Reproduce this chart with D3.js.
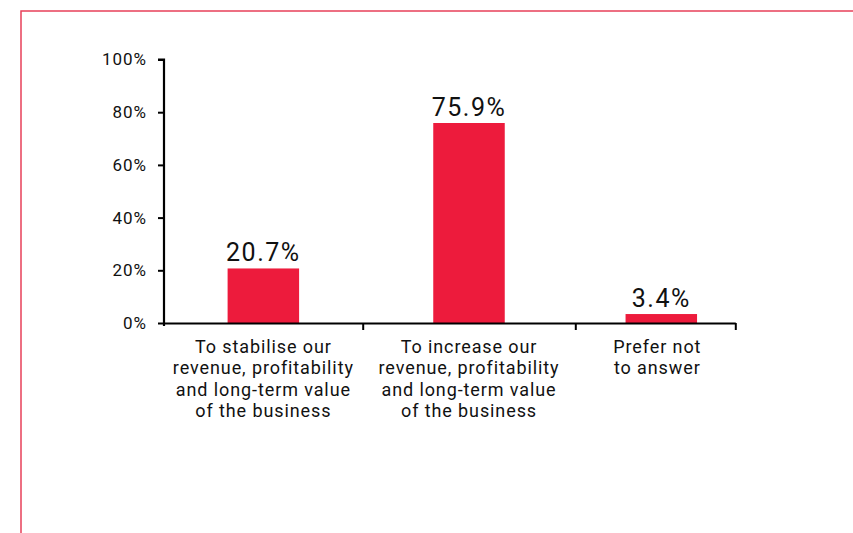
<!DOCTYPE html>
<html>
<head>
<meta charset="utf-8">
<script src="https://cdn.jsdelivr.net/npm/d3@7"></script>
<style>
  html, body { margin: 0; padding: 0; background: #fff; }
  svg { display: block; }
  text { font-family: Roboto, "Open Sans", sans-serif; fill: #111; }
</style>
</head>
<body>
<svg id="chart" width="853" height="533"></svg>
<script>
// ---- data ----
const categories = [
  ["To stabilise our", "revenue, profitability", "and long-term value", "of the business"],
  ["To increase our", "revenue, profitability", "and long-term value", "of the business"],
  ["Prefer not", "to answer"]
];
const values = [20.7, 75.9, 3.4];
const valueLabels = ["20.7%", "75.9%", "3.4%"];
const yTicks = [0, 20, 40, 60, 80, 100];
const yTickLabels = ["0%", "20%", "40%", "60%", "80%", "100%"];

// ---- layout ----
const svg = d3.select("#chart");
const W = 853, H = 533;
const barColor = "#ED1B3C";

// frame lines (top + left)
svg.append("path")
  .attr("d", `M21,${H} V11 H${W}`)
  .attr("fill", "none")
  .attr("stroke", "#E8405A")
  .attr("stroke-width", 1.5);

const y = d3.scaleLinear().domain([0, 100]).range([323, 59.5]);
// category boundaries scale (index of boundary -> pixel)
const x = d3.scaleLinear().domain([0, 1, 2, 3]).range([164, 362.7, 575.3, 735.3]);
const barW = 71.5;
const shift = [0, 0, 6];

// bars
svg.append("g").selectAll("rect")
  .data(values)
  .join("rect")
  .attr("x", (d, i) => x(i + 0.5) - barW / 2 + shift[i])
  .attr("width", barW)
  .attr("y", d => y(d))
  .attr("height", d => y(0) - y(d))
  .attr("fill", barColor);

// value labels
svg.append("g").selectAll("text")
  .data(values)
  .join("text")
  .attr("x", (d, i) => x(i + 0.5) + shift[i])
  .attr("y", d => y(d) - 7)
  .attr("text-anchor", "middle")
  .style("font-size", "25px")
  .style("letter-spacing", "1.5px")
  .text((d, i) => valueLabels[i]);

// y axis
const yAxis = d3.axisLeft(y)
  .tickValues(yTicks)
  .tickFormat((d, i) => yTickLabels[i])
  .tickSize(6)
  .tickPadding(11);
const gy = svg.append("g").attr("transform", `translate(${x(0)},0)`).call(yAxis);
gy.select(".domain").attr("d", `M-6,${y(100)}H0V${y(0) + 3}`).attr("stroke", "#000").attr("stroke-width", 2.2);
gy.selectAll(".tick line").attr("stroke", "#000").attr("stroke-width", 2);
gy.selectAll(".tick text")
  .style("font-size", "17px")
  .style("letter-spacing", "1px")
  .style("font-family", "Roboto, 'Open Sans', sans-serif")
  .attr("fill", "#111");

// x axis
const xAxis = d3.axisBottom(x)
  .tickValues([1, 2, 3])
  .tickFormat("")
  .tickSize(7)
  .tickSizeOuter(0);
const gx = svg.append("g").attr("transform", `translate(0,${y(0)})`).call(xAxis);
gx.select(".domain").attr("stroke", "#000").attr("stroke-width", 2.2);
gx.selectAll(".tick line").attr("stroke", "#000").attr("stroke-width", 2);

// category labels
const lab = svg.append("g").selectAll("text")
  .data(categories)
  .join("text")
  .attr("text-anchor", "middle")
  .style("font-size", "18px")
  .style("letter-spacing", "0.9px")
  .attr("transform", (d, i) => `translate(${x(i + 0.5) + (i === 2 ? 2 : 0)},${y(0) + 29.7})`);
lab.selectAll("tspan")
  .data(d => d)
  .join("tspan")
  .attr("x", 0)
  .attr("y", (d, j) => j * 21.6)
  .text(d => d);
</script>
</body>
</html>
